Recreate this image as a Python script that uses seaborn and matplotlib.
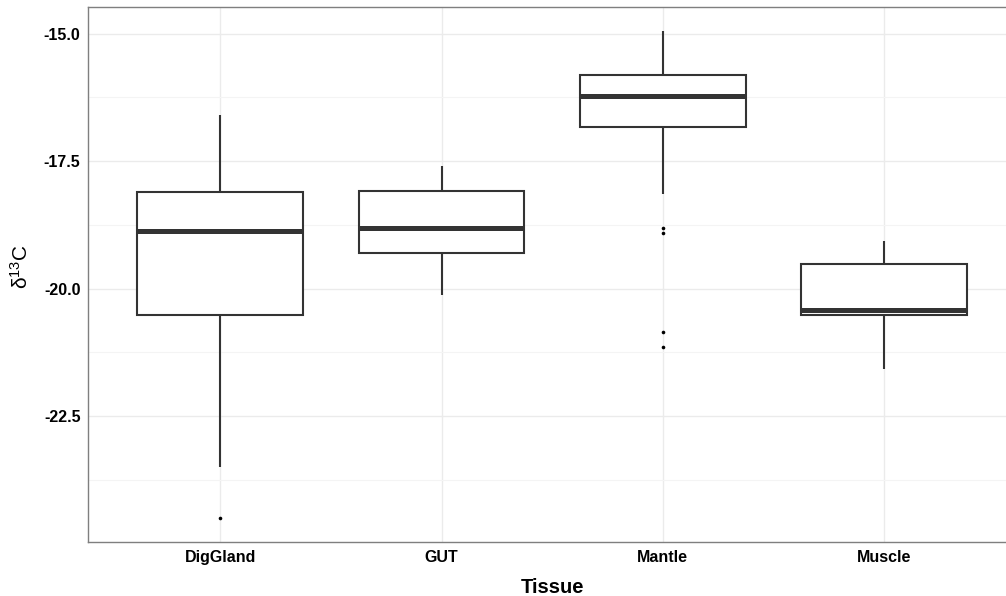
import matplotlib
matplotlib.use("Agg")
import matplotlib.pyplot as plt
from matplotlib.ticker import MultipleLocator, FormatStrFormatter
import numpy as np
import pandas as pd
import seaborn as sns

# delta 13C measurements per tissue
tissues = ["DigGland", "GUT", "Mantle", "Muscle"]

digg_values = [-24.50, -23.49, -20.52, -20.52, -18.875, -18.10, -18.10, -18.10, -16.60]
gut_values = [-20.13, -19.30, -18.81, -18.09, -17.59]
mantle_values = [-21.14, -20.84, -18.91, -18.80, -18.15,
                 -16.82, -16.82, -16.82, -16.82, -16.82,
                 -16.23, -16.23, -16.23, -16.23, -16.23,
                 -15.80, -15.80, -15.80, -15.80, -15.80,
                 -14.95]
muscle_values = [-21.58, -20.52, -20.41, -19.52, -19.07]

y_ticks = [-22.5, -20.0, -17.5, -15.0]

groups = [digg_values, gut_values, mantle_values, muscle_values]
df = pd.DataFrame({
    "Tissue": np.repeat(tissues, [len(g) for g in groups]),
    "d13C": np.concatenate(groups),
})

sns.set_style("white")
plt.rcParams["font.family"] = ["Liberation Sans", "DejaVu Sans"]
plt.rcParams["mathtext.fontset"] = "custom"
plt.rcParams["mathtext.rm"] = "Liberation Sans"
plt.rcParams["mathtext.it"] = "Liberation Sans:italic"
plt.rcParams["text.color"] = "black"

W, H = 1006, 596
fig = plt.figure(figsize=(W / 100, H / 100), dpi=100)
left, right, top, bottom = 87.5, 1016.8, 7.0, 542.0
ax = fig.add_axes([left / W, 1 - bottom / H, (right - left) / W, (bottom - top) / H])

edge = "#333333"
sns.boxplot(
    data=df, x="Tissue", y="d13C", order=tissues, ax=ax,
    color="white", linecolor=edge, linewidth=1.5, width=0.75, whis=1.5,
    showcaps=False,
    medianprops={"linewidth": 3.6, "color": edge, "solid_capstyle": "butt"},
    flierprops={"marker": "o", "markersize": 2.6, "markerfacecolor": "black",
                "markeredgecolor": "black", "markeredgewidth": 0},
)

ax.set_xlim(-0.6, 3.6)
ax.set_ylim(-24.967, -14.476)
ax.set_yticks(y_ticks)
ax.yaxis.set_major_formatter(FormatStrFormatter("%.1f"))
ax.yaxis.set_minor_locator(MultipleLocator(1.25))

ax.set_axisbelow(True)
ax.grid(which="major", axis="both", color="#ebebeb", linewidth=1.0)
ax.grid(which="minor", axis="y", color="#f4f4f4", linewidth=0.8)
ax.tick_params(axis="both", which="major", length=2.5, width=0.8, color="#555555",
               labelsize=11.5, labelcolor="black", pad=2.5)
ax.tick_params(axis="x", which="major", pad=3.5)
ax.tick_params(axis="y", which="minor", length=0)
for lab in ax.get_xticklabels() + ax.get_yticklabels():
    lab.set_fontweight("bold")

for s in ax.spines.values():
    s.set_color("#7f7f7f")
    s.set_linewidth(1.0)

ax.set_xlabel("Tissue", fontsize=14.5, fontweight="bold", color="black", labelpad=9)
ax.set_ylabel(r"$\mathregular{\delta^{13}C}$", fontsize=15, color="black")
ax.yaxis.set_label_coords(-0.06, 0.515)

fig.savefig("out.png", dpi=100, facecolor="white")
